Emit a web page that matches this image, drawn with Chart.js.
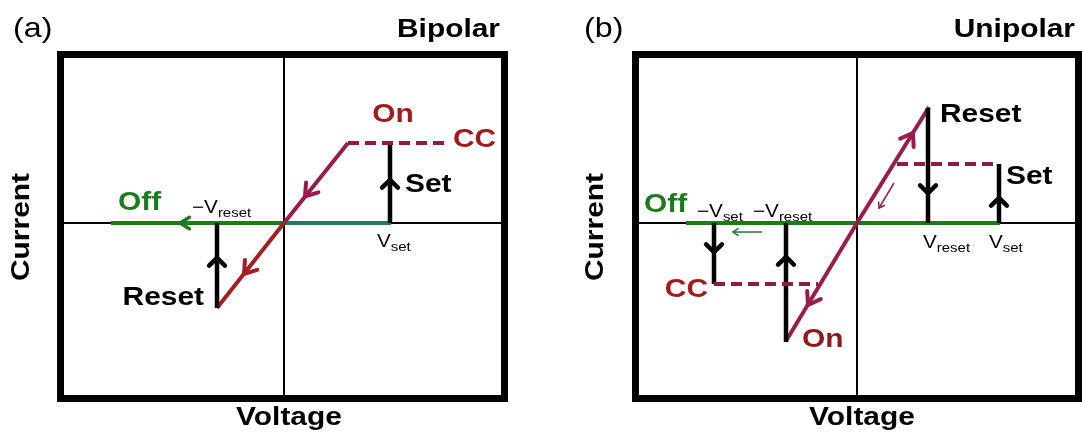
<!DOCTYPE html>
<html>
<head>
<meta charset="utf-8">
<script src="https://cdn.jsdelivr.net/npm/chart.js@4"></script>
<style>
  html, body { margin: 0; padding: 0; background: #fff; }
  #wrap { position: relative; width: 1082px; height: 434px; }
  .panel { position: absolute; top: 0; width: 541px; height: 434px; }
</style>
</head>
<body>
<div id="wrap">
  <div class="panel" style="left:0"><canvas id="bipolar" width="541" height="434"></canvas></div>
  <div class="panel" style="left:541px"><canvas id="unipolar" width="541" height="434"></canvas></div>
</div>
<script>
// Schematic I-V curves, arbitrary units (voltage on x, current on y)

// (a) bipolar
var aRange = [-2.2, 2.17, -1.72, 1.65];
var aOff = [[-1.73, 0], [0, 0], [1.07, 0]];
var aOn = [[-0.67, -0.85], [0, 0], [0.64, 0.80]];
var aCC = [[0.64, 0.80], [1.64, 0.80]];
var aSet = [[1.06, 0], [1.06, 0.80]];
var aReset = [[-0.67, 0], [-0.67, -0.85]];

// (b) unipolar
var bRange = [-2.18, 2.18, -1.72, 1.65];
var bOff = [[-1.71, 0], [1.43, 0]];
var bOn = [[-0.71, -1.18], [0, 0], [0.72, 1.16]];
var bCCpos = [[0.40, 0.59], [1.42, 0.59]];
var bCCneg = [[-1.43, -0.61], [-0.39, -0.61]];
var bReset = [[0.71, 0], [0.71, 1.15]];
var bSet = [[1.42, 0], [1.42, 0.59]];
var bSetNeg = [[-1.43, 0], [-1.43, -0.61]];
var bResetNeg = [[-0.71, 0], [-0.71, -1.19]];
var bHintOff = [[-0.95, -0.09], [-1.24, -0.09]];
var bHintOn = [[0.37, 0.40], [0.22, 0.15]];

var GREEN = '#1c7c1c', TEAL = '#24795a', RED = '#a61e22', PLUM = '#9a1c4e', DASH = '#8e1a48', TXTRED = '#a01c1c';

// arrow heads: x, y, dx, dy, colour, size
var aArrows = [
  [-1.04, 0, -1, 0, GREEN, 'm'],
  [0.21, 0.265, -1, -1.25, PLUM, 'l'],
  [-0.40, -0.51, -1, -1.27, RED, 'l'],
  [1.06, 0.43, 0, 1, '#000', 'b'],
  [-0.67, -0.35, 0, 1, '#000', 'b']
];
var bArrows = [
  [0.56, 0.90, 1, 1.62, PLUM, 'l'],
  [-0.49, -0.82, -1, -1.66, PLUM, 'l'],
  [0.71, 0.30, 0, -1, '#000', 'b'],
  [1.42, 0.25, 0, 1, '#000', 'b'],
  [-1.43, -0.29, 0, -1, '#000', 'b'],
  [-0.71, -0.34, 0, 1, '#000', 'b'],
  [-1.24, -0.09, -1, 0, GREEN, 's'],
  [0.22, 0.15, -0.6, -1, PLUM, 's']
];

var BIG = 'bold 26px "Liberation Sans", Arial, sans-serif';
var REG = '28px "Liberation Sans", Arial, sans-serif';
var SM = '18px "Liberation Sans", Arial, sans-serif';
var SUB = '13px "Liberation Sans", Arial, sans-serif';
var STRETCH = 1.15;

// labels placed in data units: runs, x, y, align, colour
var aLabels = [
  [[['On', BIG]], 1.09, 1.08, 'center', TXTRED],
  [[['CC', BIG]], 1.69, 0.83, 'left', TXTRED],
  [[['Set', BIG]], 1.21, 0.38, 'left', '#000'],
  [[['Reset', BIG]], -0.80, -0.75, 'right', '#000'],
  [[['Off', BIG]], -1.66, 0.20, 'left', GREEN],
  [[['\u2212V', SM], ['reset', SUB, 5]], -0.92, 0.15, 'left', '#000'],
  [[['V', SM], ['set', SUB, 5]], 0.93, -0.19, 'left', '#000']
];
var bLabels = [
  [[['Reset', BIG]], 0.83, 1.08, 'left', '#000'],
  [[['Set', BIG]], 1.49, 0.46, 'left', '#000'],
  [[['Off', BIG]], -2.13, 0.18, 'left', GREEN],
  [[['CC', BIG]], -1.49, -0.67, 'right', TXTRED],
  [[['On', BIG]], -0.55, -1.17, 'left', '#8e1a1a'],
  [[['\u2212V', SM], ['set', SUB, 5]], -1.60, 0.11, 'left', '#000'],
  [[['\u2212V', SM], ['reset', SUB, 5]], -1.04, 0.11, 'left', '#000'],
  [[['V', SM], ['reset', SUB, 5]], 0.66, -0.20, 'left', '#000'],
  [[['V', SM], ['set', SUB, 5]], 1.32, -0.20, 'left', '#000']
];

function textRun(ctx, runs, x, y, align, color) {
  ctx.save();
  ctx.fillStyle = color;
  ctx.textBaseline = 'middle';
  ctx.textAlign = 'left';
  var w = 0;
  runs.forEach(function (r) { ctx.font = r[1]; w += ctx.measureText(r[0]).width; });
  w *= STRETCH;
  var x0 = align === 'center' ? x - w / 2 : (align === 'right' ? x - w : x);
  ctx.translate(x0, y);
  ctx.scale(STRETCH, 1);
  var cx = 0;
  runs.forEach(function (r) {
    ctx.font = r[1];
    ctx.fillText(r[0], cx, r[2] || 0);
    cx += ctx.measureText(r[0]).width;
  });
  ctx.restore();
}

var HEADS = { s: [6, 0.6, 1.5], m: [11, 0.55, 3.5], l: [14, 0.6, 4], b: [11, 0.8, 4.5] };

function sketchPlugin(arrows, labels, titles) {
  return {
    id: 'sketch',
    afterDatasetsDraw: function (chart) {
      var ctx = chart.ctx, xs = chart.scales.x, ys = chart.scales.y, ca = chart.chartArea;
      arrows.forEach(function (a) {
        var tx = xs.getPixelForValue(a[0]), ty = ys.getPixelForValue(a[1]);
        var ang = Math.atan2(ys.getPixelForValue(a[1] + a[3] * 0.1) - ty, xs.getPixelForValue(a[0] + a[2] * 0.1) - tx);
        var h = HEADS[a[5]];
        ctx.save();
        ctx.strokeStyle = a[4];
        ctx.lineWidth = h[2];
        ctx.lineCap = 'round';
        ctx.lineJoin = 'miter';
        ctx.beginPath();
        ctx.moveTo(tx - h[0] * Math.cos(ang - h[1]), ty - h[0] * Math.sin(ang - h[1]));
        ctx.lineTo(tx, ty);
        ctx.lineTo(tx - h[0] * Math.cos(ang + h[1]), ty - h[0] * Math.sin(ang + h[1]));
        ctx.stroke();
        ctx.restore();
      });
      labels.forEach(function (l) {
        textRun(ctx, l[0], xs.getPixelForValue(l[1]), ys.getPixelForValue(l[2]), l[3], l[4]);
      });
      // frame
      ctx.save();
      ctx.strokeStyle = '#000';
      ctx.lineWidth = 7;
      ctx.strokeRect(ca.left - 3.5, ca.top - 3.5, ca.width + 7, ca.height + 7);
      ctx.restore();
      // panel letter, mode, axis names
      textRun(ctx, [[titles.tag, REG]], titles.tagX, 29, 'left', '#000');
      textRun(ctx, [[titles.name, BIG]], titles.nameX, 30, 'right', '#000');
      textRun(ctx, [['Voltage', BIG]], titles.voltX, 418, 'center', '#000');
      ctx.save();
      ctx.translate(titles.curX, 227);
      ctx.rotate(-Math.PI / 2);
      textRun(ctx, [['Current', BIG]], 0, 0, 'center', '#000');
      ctx.restore();
    }
  };
}

function pts(arr) { return arr.map(function (p) { return { x: p[0], y: p[1] }; }); }

function line(arr, color, width, extra) {
  var ds = {
    data: pts(arr), showLine: true, borderColor: color, borderWidth: width,
    pointRadius: 0, fill: false, tension: 0, borderCapStyle: 'butt', order: 1
  };
  for (var k in extra) ds[k] = extra[k];
  return ds;
}

function axes(r) {
  return [
    line([[r[0], 0], [r[1], 0]], '#000', 2, { order: 9 }),
    line([[0, r[2]], [0, r[3]]], '#000', 2, { order: 9 })
  ];
}

function opts(r, pad) {
  return {
    responsive: false,
    animation: false,
    layout: { padding: pad },
    scales: {
      x: { type: 'linear', display: false, min: r[0], max: r[1] },
      y: { type: 'linear', display: false, min: r[2], max: r[3] }
    },
    plugins: { legend: { display: false }, tooltip: { enabled: false } }
  };
}

new Chart(document.getElementById('bipolar'), {
  type: 'scatter',
  data: {
    datasets: axes(aRange).concat([
      line(aOff, GREEN, 4, { order: 5, segment: { borderColor: function (c) { return c.p0.parsed.x >= 0 ? TEAL : GREEN; } } }),
      line(aOn, RED, 4, { order: 3, segment: { borderColor: function (c) { return c.p0.parsed.x >= 0 ? PLUM : RED; } } }),
      line(aCC, DASH, 4, { borderDash: [11, 6] }),
      line(aSet, '#000', 4.5),
      line(aReset, '#000', 4.5)
    ])
  },
  options: opts(aRange, { left: 64, right: 40, top: 58, bottom: 39 }),
  plugins: [sketchPlugin(aArrows, aLabels, { tag: '(a)', tagX: 13, name: 'Bipolar', nameX: 500, voltX: 289, curX: 22 })]
});

new Chart(document.getElementById('unipolar'), {
  type: 'scatter',
  data: {
    datasets: axes(bRange).concat([
      line(bOff, GREEN, 4, { order: 5 }),
      line(bOn, PLUM, 4, { order: 3 }),
      line(bCCpos, DASH, 4, { borderDash: [11, 6] }),
      line(bCCneg, DASH, 4, { borderDash: [11, 6] }),
      line(bReset, '#000', 4.5),
      line(bSet, '#000', 4.5),
      line(bSetNeg, '#000', 4.5),
      line(bResetNeg, '#000', 4.5),
      line(bHintOff, GREEN, 1.5),
      line(bHintOn, PLUM, 1.5)
    ])
  },
  options: opts(bRange, { left: 98, right: 7, top: 58, bottom: 39 }),
  plugins: [sketchPlugin(bArrows, bLabels, { tag: '(b)', tagX: 43, name: 'Unipolar', nameX: 534, voltX: 321, curX: 55 })]
});
</script>
</body>
</html>
